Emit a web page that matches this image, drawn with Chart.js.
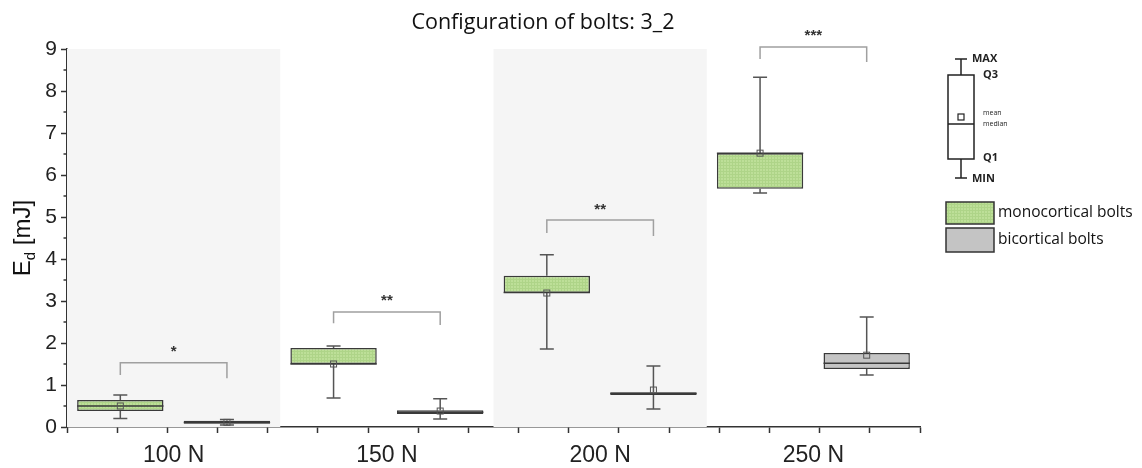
<!DOCTYPE html>
<html><head><meta charset="utf-8">
<script src="https://cdn.jsdelivr.net/npm/chart.js@4.4.1/dist/chart.umd.min.js"></script>
<style>html,body{margin:0;padding:0;background:#fff;}#wrap{width:1142px;height:468px;}</style>
</head><body><div id="wrap"><canvas id="c" width="1142" height="468"></canvas></div>
<script>
const chartTitle = 'Configuration of bolts: 3_2';
const categories = ['100 N', '150 N', '200 N', '250 N'];
const seriesNames = ['monocortical bolts', 'bicortical bolts'];

const monoMin    = [0.20, 0.69, 1.86, 5.57];
const monoQ1     = [0.38, 1.50, 3.19, 5.67];
const monoMedian = [0.50, 1.50, 3.20, 6.52];
const monoQ3     = [0.64, 1.88, 3.60, 6.52];
const monoMax    = [0.76, 1.93, 4.10, 8.33];
const monoMean   = [0.50, 1.50, 3.19, 6.52];

const biMin    = [0.05, 0.19, 0.43, 1.24];
const biQ1     = [0.08, 0.31, 0.76, 1.38];
const biMedian = [0.11, 0.35, 0.80, 1.52];
const biQ3     = [0.15, 0.40, 0.83, 1.76];
const biMax    = [0.18, 0.67, 1.45, 2.62];
const biMean   = [0.11, 0.38, 0.88, 1.71];

const sigLabels       = ['*', '**', '**', '***'];
const bracketTop      = [1.53, 2.74, 4.93, 9.05];
const bracketLeftEnd  = [1.24, 2.47, 4.62, 8.76];
const bracketRightEnd = [1.16, 2.43, 4.55, 8.69];
const starLevel       = [1.85, 3.07, 5.24, 9.38];
const shadedCategories = [0, 2];

const yMin = 0, yMax = 9, yStep = 1, yMinorStep = 0.5;

function makePattern(base, line) {
  const p = document.createElement('canvas');
  p.width = 3; p.height = 3;
  const g = p.getContext('2d');
  g.fillStyle = base; g.fillRect(0, 0, 3, 3);
  g.fillStyle = line; g.fillRect(0, 0, 1, 3); g.fillRect(0, 0, 3, 1);
  return g.createPattern(p, 'repeat');
}
const ctx0 = document.getElementById('c').getContext('2d');
const greenFill = makePattern('#bddf98', '#aed488');
const grayFill = '#c4c4c4';

const stats = [
  {min: monoMin, q1: monoQ1, med: monoMedian, q3: monoQ3, max: monoMax, mean: monoMean},
  {min: biMin, q1: biQ1, med: biMedian, q3: biQ3, max: biMax, mean: biMean}
];

const boxPlugin = {
  id: 'boxDecor',
  beforeDatasetsDraw(chart) {
    const {ctx, chartArea, scales} = chart;
    const x = scales.x;
    ctx.save();
    ctx.fillStyle = '#f5f5f5';
    shadedCategories.forEach(i => {
      const l = x.getPixelForValue(i - 0.5), r = x.getPixelForValue(i + 0.5);
      ctx.fillRect(l, chartArea.top, r - l, chartArea.bottom - chartArea.top);
    });
    ctx.restore();
  },
  afterDatasetsDraw(chart) {
    const {ctx, scales} = chart;
    const y = scales.y;
    ctx.save();
    stats.forEach((s, di) => {
      const meta = chart.getDatasetMeta(di);
      meta.data.forEach((bar, i) => {
        const cx = bar.x, hw = bar.width / 2;
        ctx.strokeStyle = '#555';
        ctx.lineWidth = 1.5;
        const pMax = y.getPixelForValue(s.max[i]), pQ3 = y.getPixelForValue(s.q3[i]);
        const pMin = y.getPixelForValue(s.min[i]), pQ1 = y.getPixelForValue(s.q1[i]);
        ctx.beginPath();
        ctx.moveTo(cx, pMax); ctx.lineTo(cx, pQ3);
        ctx.moveTo(cx, pQ1); ctx.lineTo(cx, pMin);
        ctx.moveTo(cx - 7, pMax); ctx.lineTo(cx + 7, pMax);
        ctx.moveTo(cx - 7, pMin); ctx.lineTo(cx + 7, pMin);
        ctx.stroke();
        ctx.strokeStyle = '#3a3a3a';
        ctx.lineWidth = 1.5;
        const pMed = y.getPixelForValue(s.med[i]);
        ctx.beginPath(); ctx.moveTo(cx - hw, pMed); ctx.lineTo(cx + hw, pMed); ctx.stroke();
        const pMean = y.getPixelForValue(s.mean[i]);
        ctx.lineWidth = 1;
        ctx.strokeStyle = '#555';
        ctx.strokeRect(cx - 3, pMean - 3, 6, 6);
      });
    });
    ctx.restore();
  },
  afterDraw(chart) {
    const {ctx, chartArea, scales} = chart;
    const x = scales.x, y = scales.y;
    ctx.save();
    ctx.strokeStyle = '#333'; ctx.lineWidth = 1.5;
    for (let v = yMin + yMinorStep; v < yMax; v += yStep) {
      const py = y.getPixelForValue(v);
      ctx.beginPath(); ctx.moveTo(chartArea.left, py); ctx.lineTo(chartArea.left - 3.5, py); ctx.stroke();
    }
    categories.forEach((c, i) => {
      const m0 = chart.getDatasetMeta(0).data[i], m1 = chart.getDatasetMeta(1).data[i];
      const xl = m0.x, xr = m1.x;
      const pt = y.getPixelForValue(bracketTop[i]);
      ctx.strokeStyle = '#a0a0a0'; ctx.lineWidth = 1.5;
      ctx.beginPath();
      ctx.moveTo(xl, y.getPixelForValue(bracketLeftEnd[i]));
      ctx.lineTo(xl, pt); ctx.lineTo(xr, pt);
      ctx.lineTo(xr, y.getPixelForValue(bracketRightEnd[i]));
      ctx.stroke();
      ctx.fillStyle = '#333';
      ctx.font = 'bold 15px "Liberation Sans"';
      ctx.textAlign = 'center'; ctx.textBaseline = 'middle';
      ctx.fillText(sigLabels[i], x.getPixelForValue(i), y.getPixelForValue(starLevel[i]) + 3);
    });
    ctx.fillStyle = '#111';
    ctx.font = '21.5px "Open Sans"';
    ctx.textAlign = 'center'; ctx.textBaseline = 'alphabetic';
    ctx.fillText(chartTitle, chartArea.left + (chartArea.right - chartArea.left) * 0.558, 29);
    ctx.save();
    ctx.translate(22, (chartArea.top + chartArea.bottom) / 2);
    ctx.rotate(-Math.PI / 2);
    ctx.fillStyle = '#111';
    const fBig = '24px "Liberation Sans"', fSmall = '15px "Liberation Sans"';
    ctx.font = fBig; const wE = ctx.measureText('E').width; const wR = ctx.measureText(' [mJ]').width;
    ctx.font = fSmall; const wD = ctx.measureText('d').width;
    let sx = -(wE + wD + wR) / 2;
    ctx.textAlign = 'left'; ctx.textBaseline = 'alphabetic';
    ctx.font = fBig; ctx.fillText('E', sx, 8); sx += wE;
    ctx.font = fSmall; ctx.fillText('d', sx, 13); sx += wD;
    ctx.font = fBig; ctx.fillText(' [mJ]', sx, 8);
    ctx.restore();
    const R = chartArea.right;
    const bl = R + 28, br = R + 54, bc = (bl + br) / 2;
    ctx.strokeStyle = '#222'; ctx.lineWidth = 1.5;
    ctx.strokeRect(bl, 75, br - bl, 84);
    ctx.beginPath();
    ctx.moveTo(bl, 124); ctx.lineTo(br, 124);
    ctx.moveTo(bc, 75); ctx.lineTo(bc, 59); ctx.moveTo(bc - 6, 59); ctx.lineTo(bc + 6, 59);
    ctx.moveTo(bc, 159); ctx.lineTo(bc, 178); ctx.moveTo(bc - 6, 178); ctx.lineTo(bc + 6, 178);
    ctx.stroke();
    ctx.lineWidth = 1.2;
    ctx.strokeRect(bc - 3, 114, 6, 6);
    ctx.fillStyle = '#222';
    ctx.textAlign = 'left'; ctx.textBaseline = 'middle';
    ctx.font = 'bold 11px "Open Sans"';
    ctx.fillText('MAX', R + 52, 59);
    ctx.fillText('Q3', R + 63, 75);
    ctx.fillText('Q1', R + 63, 158);
    ctx.fillText('MIN', R + 52, 179);
    ctx.font = '7px "Open Sans"';
    ctx.fillText('mean', R + 63, 113);
    ctx.fillText('median', R + 63, 124);
    const sw = [[202, 22], [228, 24]];
    chart.data.datasets.forEach((ds, i) => {
      ctx.fillStyle = ds.backgroundColor;
      ctx.fillRect(R + 26, sw[i][0], 48, sw[i][1]);
      ctx.strokeStyle = '#333'; ctx.lineWidth = 1.5;
      ctx.strokeRect(R + 26, sw[i][0], 48, sw[i][1]);
      ctx.fillStyle = '#111';
      ctx.font = '15.5px "Open Sans"';
      ctx.textBaseline = 'middle';
      ctx.fillText(ds.label, R + 78, sw[i][0] + sw[i][1] / 2);
    });
    ctx.restore();
  }
};

new Chart(ctx0, {
  type: 'bar',
  data: {
    labels: categories,
    datasets: [
      {label: seriesNames[0], data: categories.map((c, i) => [monoQ1[i], monoQ3[i]]),
       backgroundColor: greenFill, borderColor: '#3a3a3a', borderWidth: 1.5, borderSkipped: false},
      {label: seriesNames[1], data: categories.map((c, i) => [biQ1[i], biQ3[i]]),
       backgroundColor: grayFill, borderColor: '#3a3a3a', borderWidth: 1.5, borderSkipped: false}
    ]
  },
  options: {
    responsive: false,
    animation: false,
    categoryPercentage: 1.0,
    barPercentage: 0.81,
    layout: {padding: {top: 49, right: 222, left: 0, bottom: 0}},
    plugins: {legend: {display: false}, tooltip: {enabled: false}, title: {display: false}},
    scales: {
      x: {
        type: 'category', position: 'bottom', weight: 1,
        grid: {display: false}, border: {display: false},
        ticks: {font: {family: 'Liberation Sans', size: 23}, color: '#222', padding: 1, maxRotation: 0},
        afterFit(s) { s.height = 35; }
      },
      x2: {
        type: 'linear', position: 'bottom', weight: 0,
        min: -0.5, max: categories.length - 0.5,
        ticks: {display: false, stepSize: 0.25},
        grid: {drawOnChartArea: false, tickLength: 6, tickColor: '#333', tickWidth: 1.5},
        border: {display: true, color: '#333', width: 1.5},
        afterFit(s) { s.height = 6; }
      },
      y: {
        min: yMin, max: yMax,
        ticks: {stepSize: yStep, font: {family: 'Liberation Sans', size: 21}, color: '#222', padding: 4},
        grid: {drawOnChartArea: false, tickLength: 6, tickColor: '#333', tickWidth: 1.5},
        border: {display: true, color: '#333', width: 1.5},
        afterFit(s) { s.width = 67; }
      }
    }
  },
  plugins: [boxPlugin]
});
</script>
</body></html>
